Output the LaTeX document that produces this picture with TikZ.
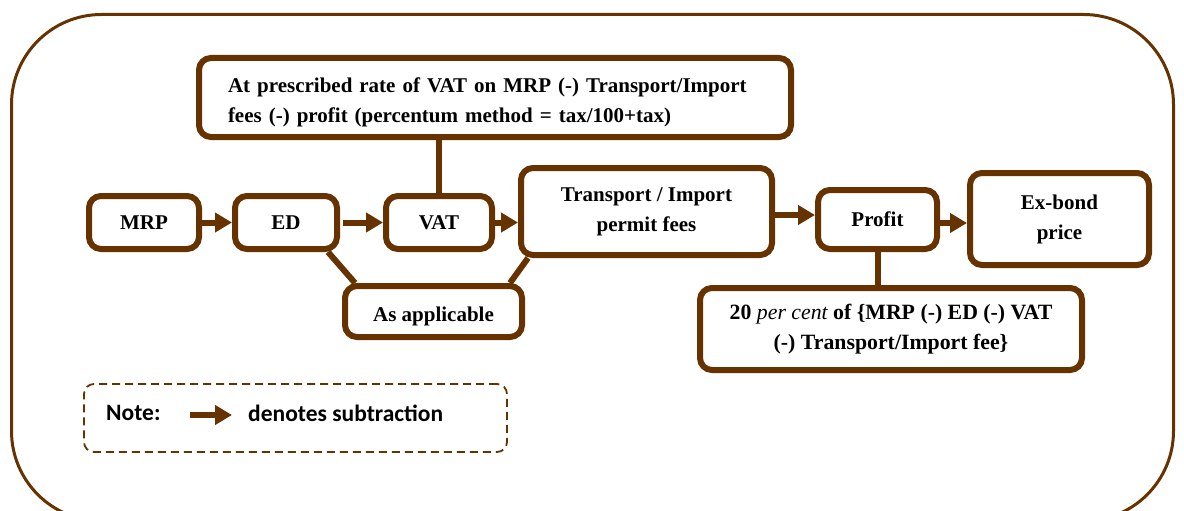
\documentclass[tikz,border=0pt]{standalone}
\usepackage{fontspec}
\setmainfont{Liberation Serif}
\newfontfamily\notefont{Carlito}
\usetikzlibrary{arrows.meta}
\definecolor{bondbrown}{RGB}{102,51,0}

\begin{document}
\begin{tikzpicture}[x=1pt,y=-1pt,
    box/.style={draw=bondbrown, line width=6pt, rounded corners=12pt, fill=white,
      inner sep=0pt, align=center, font=\fontsize{21}{30}\selectfont\bfseries},
    link/.style={draw=bondbrown, line width=6pt},
    subarrow/.style={draw=bondbrown, line width=6pt, -{Triangle[length=17pt,width=19pt]}}]
  \useasboundingbox (0,0) rectangle (1184,511);
  % outer frame
  \draw[color=bondbrown, line width=3pt, rounded corners=90pt] (11.5,14.5) rectangle (1173.5,521);

  \node[box, minimum width=592pt, minimum height=79pt, text width=534pt, align=left] (rate) at (495,97.5)
    {\rule{0pt}{25pt}At prescribed rate of VAT on MRP (-) Transport/Import\\fees (-) profit (percentum method = tax/100+tax)};
  \node[box, minimum width=110pt, minimum height=53pt] (mrp) at (144,222.5) {MRP};
  \node[box, minimum width=102pt, minimum height=53pt] (ed) at (286,222.5) {ED};
  \node[box, minimum width=106pt, minimum height=53pt] (vat) at (439,222.5) {VAT};
  \node[box, minimum width=251pt, minimum height=87pt] (trans) at (646.5,211.5) {Transport / Import\\permit fees};
  \node[box, minimum width=119pt, minimum height=59pt] (profit) at (877.5,219.5) {Profit};
  \node[box, minimum width=179pt, minimum height=92pt] (exbond) at (1059.5,219) {Ex-bond\\price};
  \node[box, minimum width=177pt, minimum height=51pt] (asapp) at (433.5,311.5) {\rule{0pt}{24pt}As applicable};
  \node[box, minimum width=382pt, minimum height=82pt, font=\fontsize{21.8}{30}\selectfont\bfseries] (pct) at (891,329)
    {20 {\mdseries\itshape per cent} of \{MRP (-) ED (-) VAT\\(-) Transport/Import fee\}};

  % subtractions
  \draw[subarrow] (mrp) -- (ed);
  \draw[subarrow, shorten <=3pt] (ed) -- (vat);
  \draw[subarrow] (vat.east) -- (vat.east -| trans.west);
  \draw[subarrow] ([yshift=-3.5pt]trans.east) -- ([yshift=-3.5pt]trans.east -| profit.west);
  \draw[subarrow] ([yshift=-3.5pt]profit.east) -- ([yshift=-3.5pt]profit.east -| exbond.west);

  % notes
  \draw[link] (vat.north) -- (vat.north |- rate.south);
  \draw[link] ([xshift=-12pt]ed.south east) -- ([xshift=13pt]asapp.north west);
  \draw[link] ([xshift=10pt]trans.south west) -- ([xshift=-15pt]asapp.north east);
  \draw[link] (profit.south) -- (profit.south |- pct.north);

  % legend
  \node[draw=bondbrown, line width=1.8pt, dash pattern=on 8pt off 5pt, rounded corners=10pt,
    minimum width=423pt, minimum height=68pt] (note) at (295.5,418) {};
  \node[anchor=west, inner sep=0pt, font=\notefont\bfseries\fontsize{23.5}{28}\selectfont] (notelbl) at (106,413) {Note:};
  \node[anchor=west, inner sep=0pt, font=\notefont\bfseries\fontsize{23.5}{28}\selectfont] (notetxt) at (248,413) {denotes subtraction};
  \coordinate (ntail) at (190,415);
  \coordinate (nhead) at (232,415);
  \draw[subarrow] (ntail) -- (nhead);
\end{tikzpicture}
\end{document}
